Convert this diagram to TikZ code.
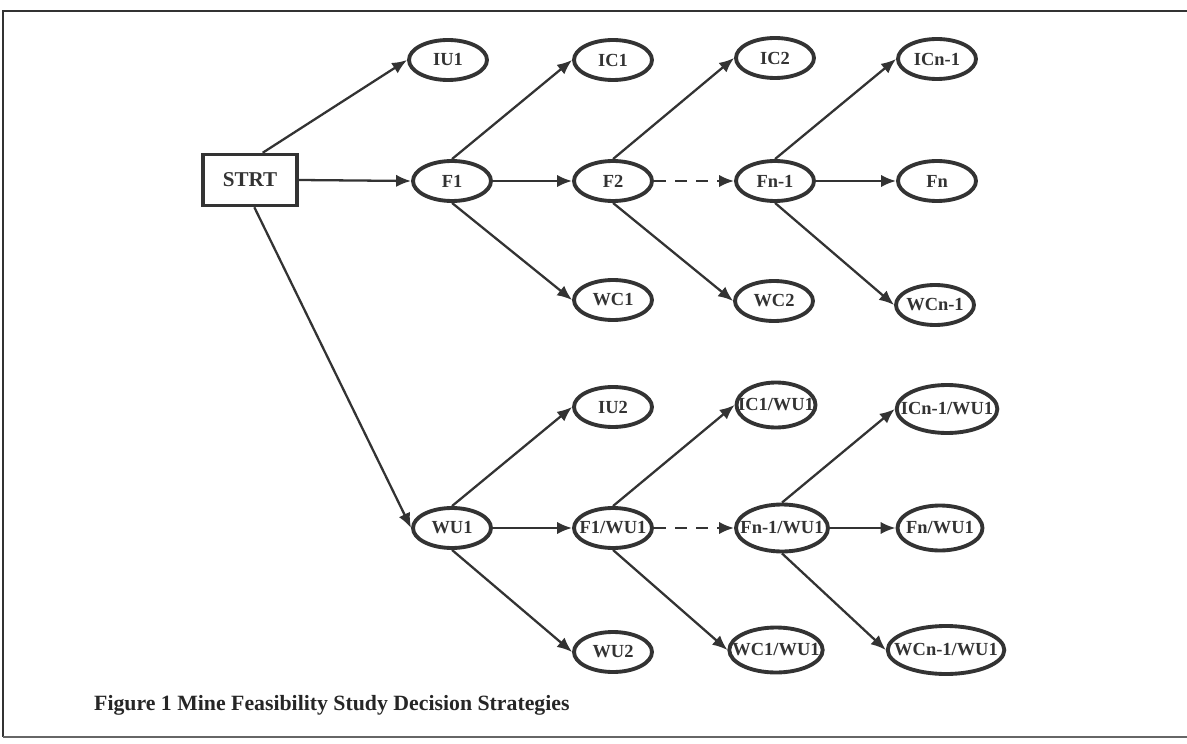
\documentclass[tikz,border=0pt]{standalone}
\usepackage{fontspec}
\setmainfont{Liberation Serif}
\usetikzlibrary{shapes.geometric,arrows.meta}
\tikzset{>={Latex[length=8.5pt,width=7pt]}}
\tikzset{
  state/.style={ellipse,draw=black!80,line width=2.2pt,inner xsep=-6pt,inner ysep=0pt,
    minimum width=1.56cm,minimum height=0.8cm,text=black!80,
    font=\bfseries\fontsize{10.5}{12}\selectfont},
  widestate/.style={state,minimum width=1.58cm,minimum height=0.9cm},
  bigstate/.style={state,minimum width=1.98cm,minimum height=0.96cm},
  startbox/.style={rectangle,draw=black!80,line width=2pt,minimum width=1.88cm,
    minimum height=1.02cm,text=black!80,font=\bfseries\fontsize{12}{14}\selectfont},
  link/.style={->,line width=1.3pt,draw=black!80},
  skip/.style={link,dash pattern=on 7pt off 5pt},
}

\begin{document}
\begin{tikzpicture}

\useasboundingbox (0,0) rectangle (23.74,14.86);

%%% Frame
\draw [line width=1.6pt,black!80] (23.74,14.64) -- (0.06,14.64) -- (0.06,0.12);
\draw [line width=1pt,black!60] (0.06,0.12) -- (23.74,0.12);

%%% Start
\node[startbox] (strt) at (5.00,11.26) {STRT};

%%% Upper tree
\node[state] (iu1) at (8.96,13.66) {IU1};
\node[state] (f1) at (9.04,11.24) {F1};
\node[state] (ic1) at (12.26,13.66) {IC1};
\node[state] (f2) at (12.26,11.24) {F2};
\node[state] (wc1) at (12.26,8.86) {WC1};
\node[state] (ic2) at (15.50,13.70) {IC2};
\node[state] (fn1) at (15.50,11.24) {Fn-1};
\node[state] (wc2) at (15.48,8.84) {WC2};
\node[state] (icn1) at (18.74,13.68) {ICn-1};
\node[state] (fn) at (18.74,11.24) {Fn};
\node[state] (wcn1) at (18.70,8.76) {WCn-1};

%%% Lower tree
\node[state] (wu1) at (9.04,4.30) {WU1};
\node[state] (iu2) at (12.26,6.72) {IU2};
\node[state] (f1w) at (12.26,4.30) {F1/WU1};
\node[state] (wu2) at (12.26,1.82) {WU2};
\node[widestate] (ic1w) at (15.52,6.76) {IC1/WU1};
\node[bigstate,minimum width=1.84cm,minimum height=0.94cm] (fn1w) at (15.64,4.30) {Fn-1/WU1};
\node[widestate] (wc1w) at (15.52,1.86) {WC1/WU1};
\node[bigstate] (icn1w) at (18.94,6.68) {ICn-1/WU1};
\node[bigstate,minimum width=1.70cm,minimum height=0.9cm] (fnw) at (18.80,4.30) {Fn/WU1};
\node[bigstate] (wcn1w) at (18.92,1.86) {WCn-1/WU1};

%%% Caption
\node[anchor=base west,text=black!85,font=\bfseries\fontsize{12.4}{14}\selectfont] (cap) at (1.76,0.66) {Figure 1 Mine Feasibility Study Decision Strategies};

%%% Links from start
\draw [link] (strt.65) -- (iu1.west);
\draw [link] (strt.east) -- (f1.west);
\draw [link] (strt.-81) -- (wu1.west);

%%% Links, upper tree
\draw [link] (f1.north) -- (ic1.west);
\draw [link] (f1.east) -- (f2.west);
\draw [link] (f1.south) -- (wc1.west);
\draw [link] (f2.north) -- (ic2.west);
\draw [skip] (f2.east) -- (fn1.west);
\draw [link] (f2.south) -- (wc2.west);
\draw [link] (fn1.north) -- (icn1.west);
\draw [link] (fn1.east) -- (fn.west);
\draw [link] (fn1.south) -- (wcn1.west);

%%% Links, lower tree
\draw [link] (wu1.north) -- (iu2.west);
\draw [link] (wu1.east) -- (f1w.west);
\draw [link] (wu1.south) -- (wu2.west);
\draw [link] (f1w.north) -- (ic1w.west);
\draw [skip] (f1w.east) -- (fn1w.west);
\draw [link] (f1w.south) -- (wc1w.west);
\draw [link] (fn1w.north) -- (icn1w.west);
\draw [link] (fn1w.east) -- (fnw.west);
\draw [link] (fn1w.south) -- (wcn1w.west);

\end{tikzpicture}
\end{document}
